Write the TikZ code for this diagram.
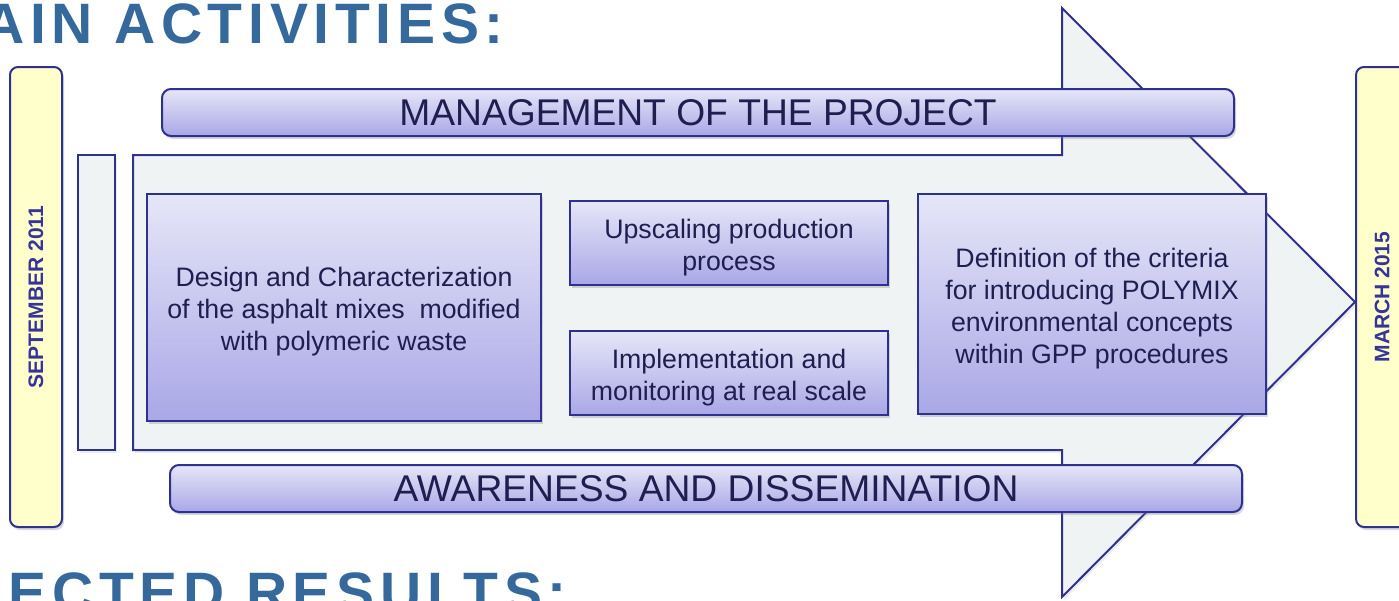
\documentclass[tikz,border=0pt]{standalone}
\usepackage{fontspec}
\setmainfont{Liberation Sans}
\newfontfamily\titlefont[LetterSpace=10]{Liberation Sans}
\usepackage{xcolor}
\usepackage{tikz}
\usetikzlibrary{shadows}
\definecolor{titleblue}{HTML}{35689B}
\definecolor{edgeblue}{HTML}{2E3092}
\definecolor{boxtop}{HTML}{E6E6F8}
\definecolor{boxbot}{HTML}{A9A7E6}
\definecolor{arrowfill}{HTML}{F0F3F4}
\definecolor{dateyellow}{HTML}{FFFFCC}
\definecolor{textnavy}{HTML}{1E1E50}
\definecolor{datetext}{HTML}{35349A}
\def\boxstrut{\rule{0pt}{28pt}}

\begin{document}
\begin{tikzpicture}[x=1pt,y=-1pt,
	softshadow/.style={drop shadow={shadow xshift=2pt,shadow yshift=-3pt,opacity=0.3}},
	actbox/.style={draw=edgeblue,line width=2pt,top color=boxtop,bottom color=boxbot,softshadow,
		text=textnavy,align=center,inner sep=0pt,font=\fontsize{26.7}{32}\selectfont},
	bar/.style={actbox,rounded corners=9pt,font=\fontsize{37.2}{40}\selectfont},
	datebox/.style={draw=edgeblue,line width=2pt,fill=dateyellow,rounded corners=8pt,softshadow,
		minimum width=52,minimum height=460},
	datelabel/.style={rotate=90,text=datetext,inner sep=0pt,font=\fontsize{21}{24}\selectfont\bfseries},
	headline/.style={text=titleblue,inner sep=0pt,font=\titlefont\fontsize{57}{60}\selectfont\bfseries}]
	\useasboundingbox (0,0) rectangle (1399,600);
	\clip (0,0) rectangle (1399,600);
	\node[headline,anchor=base east] (acttitle) at (504,43) {MAIN ACTIVITIES:};
	\node[headline,anchor=base east] (restitle) at (567,612) {EXPECTED RESULTS:};
	\node[datebox] (startbox) at (36,297) {};
	\node[datelabel] (start) at (36,297) {SEPTEMBER 2011};
	\node[datebox] (endbox) at (1382,297) {};
	\node[datelabel] (end) at (1382,297) {MARCH 2015};
	\draw[draw=edgeblue,line width=2pt,fill=arrowfill,drop shadow={shadow xshift=2pt,shadow yshift=-3pt,opacity=0.15}]
		(133,155) -- (1062,155) -- (1062,8) -- (1355,302) -- (1062,597) -- (1062,450) -- (133,450) -- cycle;
	\draw[draw=edgeblue,line width=2pt,fill=arrowfill,drop shadow={shadow xshift=2pt,shadow yshift=-3pt,opacity=0.15}]
		(78,155) rectangle (115,450);
	\node[actbox,minimum width=394,minimum height=227] (design) at (344,307.5)
		{\boxstrut Design and Characterization\\of the asphalt mixes\ \ modified\\with polymeric waste};
	\node[actbox,minimum width=318,minimum height=84] (upscale) at (729,243)
		{\boxstrut Upscaling production\\process};
	\node[actbox,minimum width=318,minimum height=84] (implement) at (729,373)
		{\boxstrut Implementation and\\monitoring at real scale};
	\node[actbox,minimum width=348,minimum height=220] (criteria) at (1092,304)
		{\boxstrut Definition of the criteria\\for introducing POLYMIX\\environmental concepts\\within GPP procedures};
	\node[bar,minimum width=1072,minimum height=47] (manage) at (698,112.5) {MANAGEMENT OF THE PROJECT};
	\node[bar,minimum width=1072,minimum height=47] (aware) at (706,488.5) {AWARENESS AND DISSEMINATION};
\end{tikzpicture}
\end{document}
